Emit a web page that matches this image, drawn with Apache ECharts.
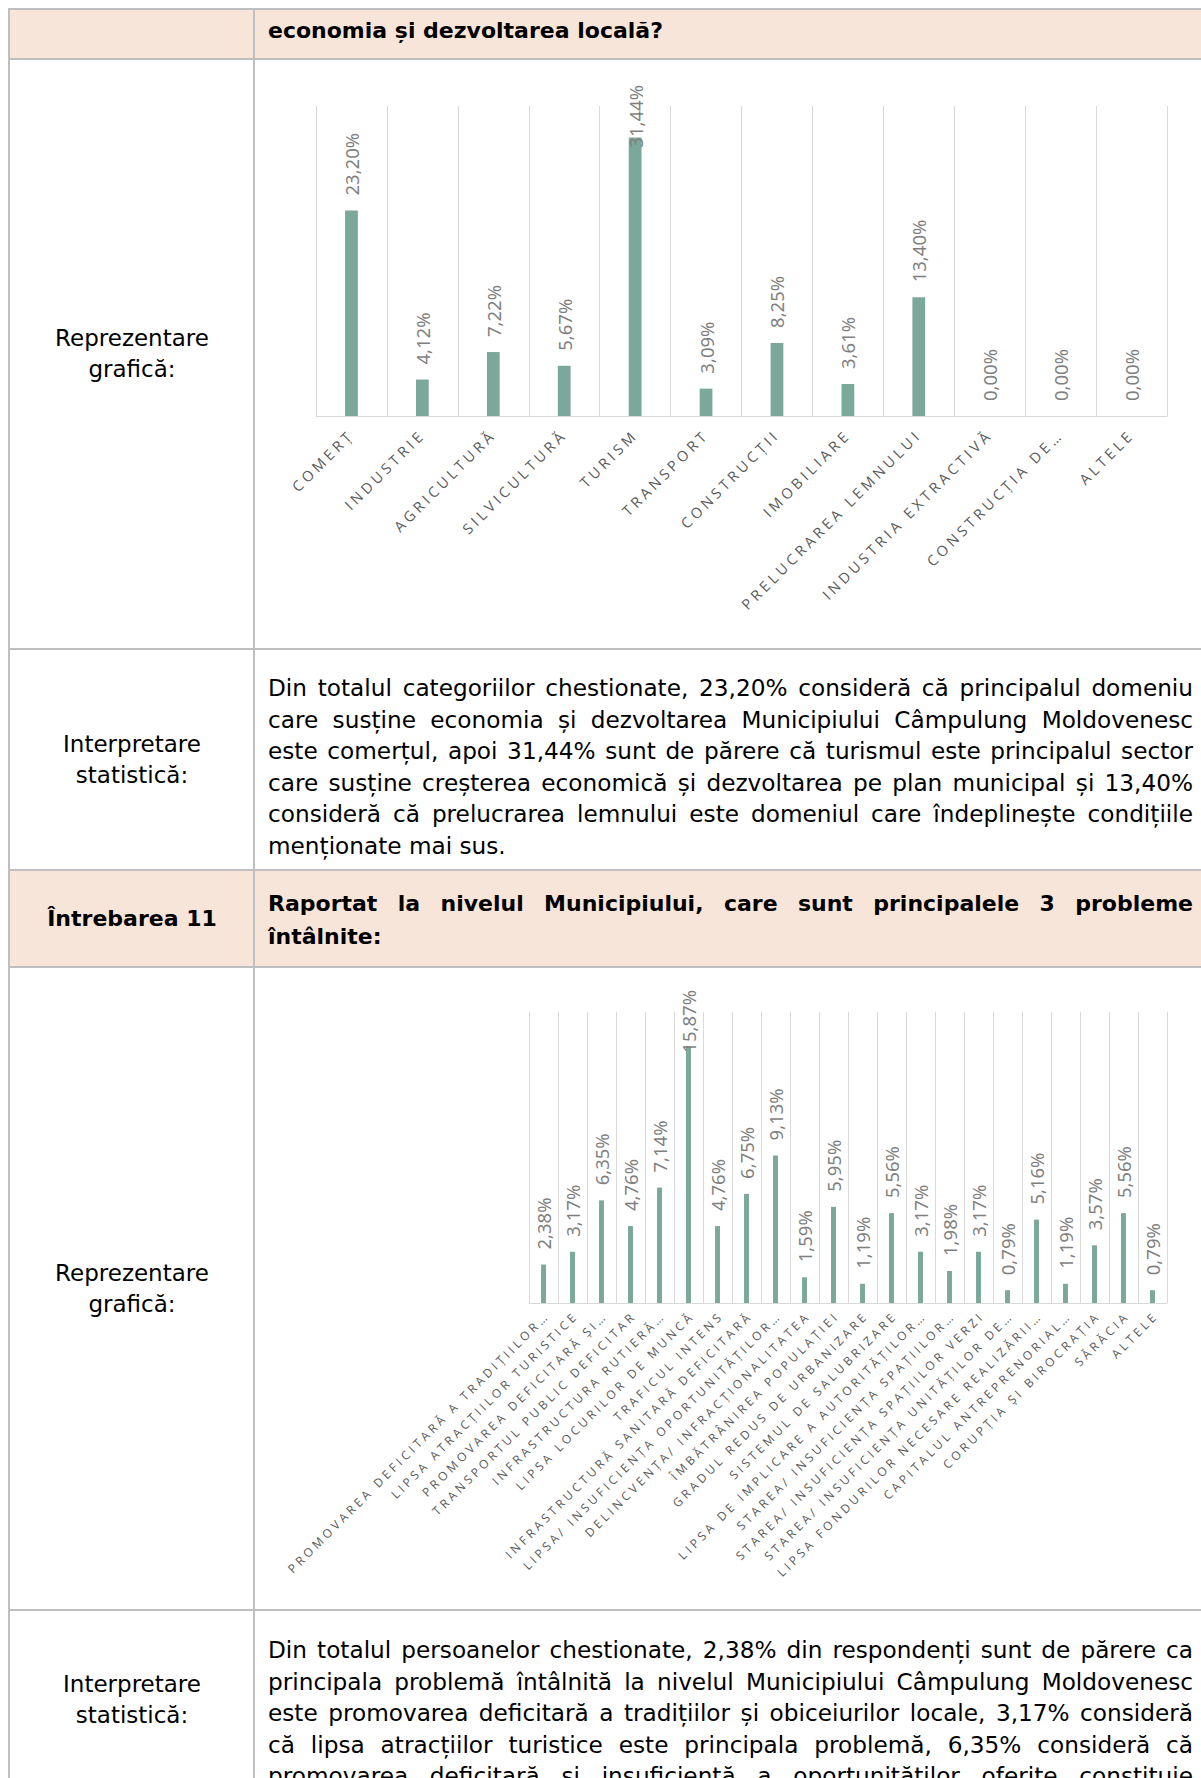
<!DOCTYPE html>
<html><head><meta charset="utf-8">
<script src="https://cdn.jsdelivr.net/npm/echarts@6/dist/echarts.min.js"></script>
<style>
html,body{margin:0;padding:0;background:#fff;}
body{width:1201px;height:1778px;overflow:hidden;position:relative;font-family:"DejaVu Sans",sans-serif;color:#000;}
.bg{position:absolute;background:#F8E5DA;left:10px;width:1191px;}
.hl{position:absolute;height:2px;background:#BFBFBF;left:8px;width:1200px;z-index:5;}
.vl{position:absolute;width:2px;background:#BFBFBF;z-index:5;top:9px;height:1780px;}
.lab{position:absolute;left:10px;width:244px;text-align:center;font-size:23px;line-height:31px;}
.txt{position:absolute;left:268px;width:925px;font-size:23.2px;line-height:31.5px;text-align:justify;hyphens:none;}
.b{font-weight:bold;font-size:22px;}
.chart{position:absolute;left:255px;width:946px;}
#c1 text[style*="Open Sans"]{letter-spacing:3.7px;}
#c2 text[style*="Open Sans"]{letter-spacing:3.4px;}
</style></head>
<body>
<div class="bg" style="top:10px;height:49px;"></div>
<div class="bg" style="top:871px;height:96px;"></div>

<div class="hl" style="top:8px;"></div>
<div class="hl" style="top:58px;"></div>
<div class="hl" style="top:648px;"></div>
<div class="hl" style="top:869px;"></div>
<div class="hl" style="top:966px;"></div>
<div class="hl" style="top:1609px;"></div>
<div class="vl" style="left:8px;"></div>
<div class="vl" style="left:253px;"></div>

<div class="txt b" style="top:15px;line-height:32px;">economia și dezvoltarea locală?</div>

<div class="lab" style="top:323px;">Reprezentare<br>grafică:</div>
<div id="c1" class="chart" style="top:60px;height:588px;"></div>

<div class="lab" style="top:729px;">Interpretare<br>statistică:</div>
<div class="txt" style="top:672px;">Din totalul categoriilor chestionate, 23,20% consideră că principalul domeniu care susține economia și dezvoltarea Municipiului Câmpulung Moldovenesc este comerțul, apoi 31,44% sunt de părere că turismul este principalul sector care susține creșterea economică și dezvoltarea pe plan municipal și 13,40% consideră că prelucrarea lemnului este domeniul care îndeplinește condițiile menționate mai sus.</div>

<div class="lab b" style="top:903px;line-height:32px;">Întrebarea 11</div>
<div class="txt b" style="top:887px;line-height:33px;">Raportat la nivelul Municipiului, care sunt principalele 3 probleme întâlnite:</div>

<div class="lab" style="top:1258px;">Reprezentare<br>grafică:</div>
<div id="c2" class="chart" style="top:968px;height:641px;"></div>

<div class="lab" style="top:1669px;">Interpretare<br>statistică:</div>
<div class="txt" style="top:1634px;text-align-last:justify;">Din totalul persoanelor chestionate, 2,38% din respondenți sunt de părere ca principala problemă întâlnită la nivelul Municipiului Câmpulung Moldovenesc este promovarea deficitară a tradițiilor și obiceiurilor locale, 3,17% consideră că lipsa atracțiilor turistice este principala problemă, 6,35% consideră că promovarea deficitară și insuficientă a oportunităților oferite constituie</div>

<script>
// ---- Chart 1 data ----
var sectorCategories = ["COMERȚ","INDUSTRIE","AGRICULTURĂ","SILVICULTURĂ","TURISM","TRANSPORT","CONSTRUCȚII","IMOBILIARE","PRELUCRAREA LEMNULUI","INDUSTRIA EXTRACTIVĂ","CONSTRUCȚIA DE…","ALTELE"];
var sectorValues = [23.20, 4.12, 7.22, 5.67, 31.44, 3.09, 8.25, 3.61, 13.40, 0.00, 0.00, 0.00];
var sectorAxisMax = 35;

// ---- Chart 2 data ----
var problemCategories = [
  "PROMOVAREA DEFICITARĂ A TRADIȚIILOR…",
  "LIPSA ATRACȚIILOR TURISTICE",
  "PROMOVAREA DEFICITARĂ ȘI…",
  "TRANSPORTUL PUBLIC DEFICITAR",
  "INFRASTRUCTURA RUTIERĂ…",
  "LIPSA LOCURILOR DE MUNCĂ",
  "TRAFICUL INTENS",
  "INFRASTRUCTURĂ SANITARĂ DEFICITARĂ",
  "LIPSA/ INSUFICIENȚA OPORTUNITĂȚILOR…",
  "DELINCVENȚA/ INFRACȚIONALITATEA",
  "ÎMBĂTRÂNIREA POPULAȚIEI",
  "GRADUL REDUS DE URBANIZARE",
  "SISTEMUL DE SALUBRIZARE",
  "LIPSA DE IMPLICARE A AUTORITĂȚILOR…",
  "STAREA/ INSUFICIENȚA SPAȚIILOR…",
  "STAREA/ INSUFICIENȚA SPAȚIILOR VERZI",
  "STAREA/ INSUFICIENȚA UNITĂȚILOR DE…",
  "LIPSA FONDURILOR NECESARE REALIZĂRII…",
  "CAPITALUL ANTREPRENORIAL…",
  "CORUPȚIA ȘI BIROCRAȚIA",
  "SĂRĂCIA",
  "ALTELE"
];
var problemValues = [2.38, 3.17, 6.35, 4.76, 7.14, 15.87, 4.76, 6.75, 9.13, 1.59, 5.95, 1.19, 5.56, 3.17, 1.98, 3.17, 0.79, 5.16, 1.19, 3.57, 5.56, 0.79];
var problemAxisMax = 18;

var BAR_COLOR = '#7BA89B';
var GRID_COLOR = '#D9D9D9';
var LABEL_DIST = 15;

function pct(p){ return p.value.toFixed(2).replace('.', ',') + '%'; }

// keep rotated value labels inside the chart area (like the original chart does)
function clampTop(lim){
  return function(p){
    var r = p.rect, lr = p.labelRect;
    if (!r || !lr) return {};
    var len = Math.max(lr.width, lr.height);
    var end = r.y - LABEL_DIST;
    if (end - len < lim) {
      return { x: r.x + r.width / 2, y: lim + len, rotate: 90, align: 'left', verticalAlign: 'middle' };
    }
    return {};
  };
}

function buildOption(cats, vals, max, grid, axisFont, barW, lim, margin, pad){
  return {
    animation: false,
    grid: grid,
    xAxis: {
      type: 'category', data: cats, boundaryGap: true,
      axisLine: { lineStyle: { color: GRID_COLOR, width: 1 } },
      axisTick: { show: false },
      splitLine: { show: true, interval: 0, lineStyle: { color: GRID_COLOR, width: 1 } },
      axisLabel: { interval: 0, rotate: 45, margin: margin, color: '#595959',
        fontFamily: 'Open Sans', fontSize: axisFont, padding: pad }
    },
    yAxis: { type: 'value', min: 0, max: max, show: false, splitLine: { show: false } },
    series: [{
      type: 'bar', data: vals, barWidth: barW,
      itemStyle: { color: BAR_COLOR },
      label: { show: true, position: 'top', rotate: 90, align: 'left', verticalAlign: 'middle',
        distance: LABEL_DIST, formatter: pct, color: '#7F7F7F', fontFamily: 'Noto Sans', fontSize: 18.5 },
      labelLayout: clampTop(lim)
    }]
  };
}

var c1 = echarts.init(document.getElementById('c1'), null, { renderer: 'svg' });
c1.setOption(buildOption(sectorCategories, sectorValues, sectorAxisMax,
  { left: 61, right: 34, top: 46, bottom: 232 }, 14.5, '18%', 25, 16, [0, 0, 0, 0]));

var c2 = echarts.init(document.getElementById('c2'), null, { renderer: 'svg' });
c2.setOption(buildOption(problemCategories, problemValues, problemAxisMax,
  { left: 274, right: 34, top: 44, bottom: 306 }, 12, '17%', 22, 14, [0, -5, 0, 0]));
</script>
</body></html>
